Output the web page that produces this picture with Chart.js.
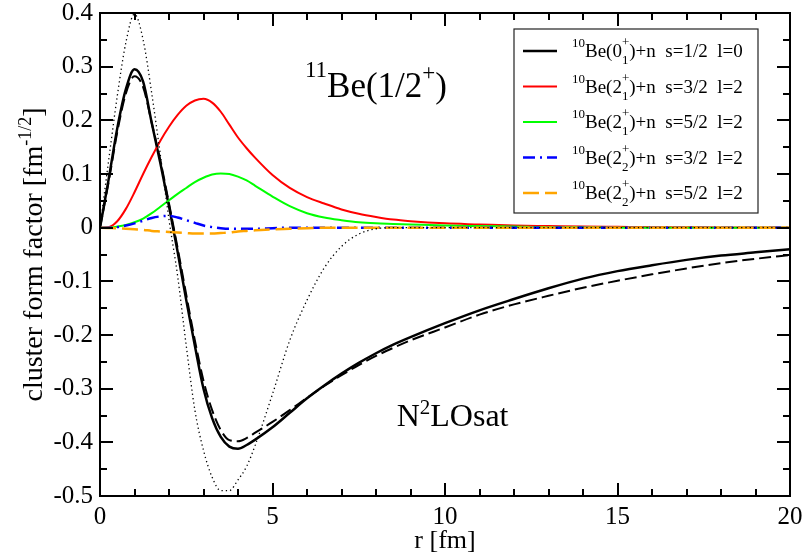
<!DOCTYPE html>
<html>
<head>
<meta charset="utf-8">
<script src="https://cdn.jsdelivr.net/npm/chart.js@4"></script>
<style>
  html, body { margin: 0; padding: 0; background: #fff; }
</style>
</head>
<body>
<canvas id="ff" width="804" height="558"></canvas>
<script>
// radial grid (fm)
const radius = [0, 0.25, 0.5, 0.75, 1, 1.25, 1.5, 1.75, 2, 2.25, 2.5, 2.75, 3, 3.25, 3.5, 3.75, 4, 4.25, 4.5,
  5, 5.5, 6, 6.5, 7, 7.5, 8, 8.5, 9, 10, 11, 12, 13, 14, 15, 16, 17, 18, 19, 20];

// 10Be(0+1)+n s=1/2 l=0
const ground = [0, 0.09, 0.185, 0.258, 0.295, 0.272, 0.195, 0.12, 0.04, -0.045, -0.135, -0.22, -0.3, -0.355, -0.39, -0.408, -0.412, -0.405, -0.395,
  -0.372, -0.345, -0.318, -0.294, -0.272, -0.252, -0.234, -0.218, -0.204, -0.178, -0.154, -0.133, -0.113, -0.095, -0.081, -0.07, -0.06, -0.052, -0.046, -0.04];
// same channel, dashed variant
const groundDashed = [0, 0.085, 0.178, 0.25, 0.282, 0.262, 0.195, 0.125, 0.045, -0.038, -0.125, -0.21, -0.285, -0.34, -0.377, -0.396, -0.398, -0.392, -0.382,
  -0.362, -0.34, -0.317, -0.295, -0.275, -0.256, -0.239, -0.224, -0.21, -0.186, -0.162, -0.143, -0.127, -0.112, -0.099, -0.087, -0.076, -0.066, -0.058, -0.051];
// same channel, dotted variant
const groundDotted = [0, 0.125, 0.245, 0.345, 0.398, 0.35, 0.25, 0.135, 0.015, -0.09, -0.22, -0.34, -0.415, -0.465, -0.49, -0.49, -0.47, -0.445, -0.405,
  -0.31, -0.21, -0.135, -0.075, -0.035, -0.012, -0.002, 0, 0, 0, 0, 0, 0, 0, 0, 0, 0, 0, 0, 0];
// 10Be(2+1)+n s=3/2 l=2
const first32 = [0, 0.001, 0.012, 0.035, 0.066, 0.1, 0.132, 0.162, 0.188, 0.21, 0.227, 0.237, 0.24, 0.233, 0.216, 0.192, 0.168, 0.148, 0.13,
  0.098, 0.074, 0.057, 0.045, 0.034, 0.026, 0.02, 0.015, 0.012, 0.008, 0.006, 0.004, 0.003, 0.002, 0.0015, 0.001, 0.001, 0.0005, 0.0005, 0];
// 10Be(2+1)+n s=5/2 l=2
const first52 = [0, 0, 0.002, 0.005, 0.01, 0.017, 0.027, 0.039, 0.051, 0.063, 0.074, 0.085, 0.093, 0.099, 0.101, 0.1, 0.095, 0.088, 0.078,
  0.058, 0.04, 0.027, 0.019, 0.014, 0.01, 0.008, 0.007, 0.006, 0.004, 0.003, 0.002, 0.001, 0.001, 0, 0, 0, 0, 0, 0];
// 10Be(2+2)+n s=3/2 l=2
const second32 = [0, 0, 0.001, 0.004, 0.008, 0.013, 0.018, 0.021, 0.022, 0.019, 0.014, 0.009, 0.004, 0.001, -0.001, -0.002, -0.002, -0.002, -0.002,
  -0.001, 0, 0, 0, 0, 0, 0, 0, 0, 0, 0, 0, 0, 0, 0, 0, 0, 0, 0, 0];
// 10Be(2+2)+n s=5/2 l=2
const second52 = [0, -0.0005, -0.001, -0.002, -0.003, -0.004, -0.006, -0.007, -0.008, -0.009, -0.01, -0.011, -0.011, -0.011, -0.01, -0.009, -0.007, -0.006, -0.005,
  -0.003, -0.002, -0.001, 0, 0, 0, 0, 0, 0, 0, 0, 0, 0, 0, 0, 0, 0, 0, 0, 0];

const SERIF = '"Liberation Serif", "Times New Roman", serif';
Chart.defaults.font.family = SERIF;
Chart.defaults.color = "#000";

const pts = (ys) => radius.map((r, i) => ({ x: r, y: ys[i] }));

// legend rows: colour, dash, width, excited state, subscript, spin, l
const legendRows = [
  { color: "#000000", dash: [], width: 2.5, state: "0", sub: "1", s: "1/2", l: "0" },
  { color: "#ff0000", dash: [], width: 2, state: "2", sub: "1", s: "3/2", l: "2" },
  { color: "#00ff00", dash: [], width: 2, state: "2", sub: "1", s: "5/2", l: "2" },
  { color: "#0000ff", dash: [12, 5, 2, 5], width: 2.5, state: "2", sub: "2", s: "3/2", l: "2" },
  { color: "#ffa500", dash: [16, 6], width: 2.5, state: "2", sub: "2", s: "5/2", l: "2" },
];

// draws runs of text with baseline shifts; a run with keep:true does not advance
function richText(ctx, x, y, runs, align) {
  let total = 0, held = 0;
  for (const r of runs) {
    ctx.font = r.size + "px " + SERIF;
    const w = ctx.measureText(r.t).width;
    if (r.keep) { held = Math.max(held, w); continue; }
    total += Math.max(held, w); held = 0;
  }
  let cx = align === "center" ? x - total / 2 : x;
  held = 0;
  ctx.textAlign = "left";
  ctx.textBaseline = "alphabetic";
  for (const r of runs) {
    ctx.font = r.size + "px " + SERIF;
    const w = ctx.measureText(r.t).width;
    ctx.fillText(r.t, cx, y + (r.dy || 0));
    if (r.keep) { held = Math.max(held, w); continue; }
    cx += Math.max(held, w); held = 0;
  }
}

const frameTicks = {
  id: "frameTicks",
  afterDatasetsDraw(chart) {
    const { ctx, chartArea: a, scales: { x, y } } = chart;
    ctx.save();
    ctx.strokeStyle = "#000";
    ctx.lineWidth = 2;
    ctx.beginPath();
    for (let r = 0; r <= 20; r++) {
      const px = Math.round(x.getPixelForValue(r));
      const len = r % 5 === 0 ? 13 : 7;
      ctx.moveTo(px, a.bottom); ctx.lineTo(px, a.bottom - len);
      ctx.moveTo(px, a.top); ctx.lineTo(px, a.top + len);
    }
    for (let k = -10; k <= 8; k++) {
      const py = Math.round(y.getPixelForValue(k * 0.05));
      const len = k % 2 === 0 ? 13 : 7;
      ctx.moveTo(a.left, py); ctx.lineTo(a.left + len, py);
      ctx.moveTo(a.right, py); ctx.lineTo(a.right - len, py);
    }
    ctx.stroke();
    ctx.strokeRect(a.left, a.top, a.right - a.left, a.bottom - a.top);
    ctx.restore();
  },
};

const labels = {
  id: "labels",
  afterDraw(chart) {
    const { ctx, chartArea: a, scales: { x, y } } = chart;
    ctx.save();
    ctx.fillStyle = "#000";

    // y axis title, rotated
    ctx.save();
    ctx.translate(42, (a.top + a.bottom) / 2);
    ctx.rotate(-Math.PI / 2);
    richText(ctx, 0, 0, [
      { t: "cluster form factor [fm", size: 28 },
      { t: "-1/2", size: 18, dy: -11 },
      { t: "]", size: 28 },
    ], "center");
    ctx.restore();

    // nucleus and interaction labels
    richText(ctx, x.getPixelForValue(5.94), y.getPixelForValue(0.243), [
      { t: "11", size: 23, dy: -20 },
      { t: "Be(1/2", size: 35 },
      { t: "+", size: 23, dy: -17 },
      { t: ")", size: 35 },
    ]);
    richText(ctx, x.getPixelForValue(8.6), y.getPixelForValue(-0.37), [
      { t: "N", size: 32 },
      { t: "2", size: 21, dy: -12 },
      { t: "LOsat", size: 32 },
    ]);

    // legend box
    const bx = a.right - 276, by = a.top + 16, bw = 244, bh = 184;
    ctx.fillStyle = "#fff";
    ctx.fillRect(bx, by, bw, bh);
    ctx.strokeStyle = "#222";
    ctx.lineWidth = 1.2;
    ctx.strokeRect(bx, by, bw, bh);
    legendRows.forEach((row, i) => {
      const ly = by + 22 + i * 35.5;
      ctx.save();
      ctx.strokeStyle = row.color;
      ctx.lineWidth = row.width;
      ctx.setLineDash(row.dash);
      ctx.beginPath();
      ctx.moveTo(bx + 9, ly);
      ctx.lineTo(bx + 43, ly);
      ctx.stroke();
      ctx.restore();
      ctx.fillStyle = "#000";
      richText(ctx, bx + 58, ly + 6, [
        { t: "10", size: 13, dy: -10 },
        { t: "Be(" + row.state, size: 19 },
        { t: "+", size: 13, dy: -11, keep: true },
        { t: row.sub, size: 13, dy: 7 },
        { t: ")+n  s=" + row.s + "  l=" + row.l, size: 19 },
      ]);
    });
    ctx.restore();
  },
};

const line = (data, color, width, dash, order) => ({
  data: pts(data),
  borderColor: color,
  borderWidth: width,
  borderDash: dash,
  pointRadius: 0,
  fill: false,
  cubicInterpolationMode: "monotone",
  order: order,
});

new Chart(document.getElementById("ff"), {
  type: "line",
  data: {
    datasets: [
      line(ground, "#000000", 2.5, [], 6),
      line(first32, "#ff0000", 2, [], 5),
      line(first52, "#00ff00", 2, [], 4),
      line(second32, "#0000ff", 2.5, [12, 5, 2, 5], 3),
      line(second52, "#ffa500", 2.5, [16, 6], 2),
      line(groundDashed, "#000000", 2, [12, 5], 1),
      line(groundDotted, "#000000", 1.3, [1.3, 3], 0),
    ],
  },
  options: {
    responsive: false,
    animation: false,
    layout: { padding: { top: 13, right: 14, left: 0, bottom: 0 } },
    plugins: { legend: { display: false }, tooltip: { enabled: false } },
    scales: {
      x: {
        type: "linear",
        min: 0,
        max: 20,
        grid: { display: false },
        border: { display: false },
        ticks: { stepSize: 5, color: "#000", font: { family: SERIF, size: 25 }, padding: -2, maxRotation: 0 },
        title: { display: true, text: "r [fm]", color: "#000", font: { family: SERIF, size: 26 }, padding: { top: 0, bottom: 1 } },
        afterFit: (s) => { s.height = 62; s.paddingLeft = 0; s.paddingRight = 0; },
      },
      y: {
        type: "linear",
        min: -0.5,
        max: 0.4,
        grid: { display: false },
        border: { display: false },
        ticks: {
          stepSize: 0.1,
          color: "#000",
          font: { family: SERIF, size: 25 },
          padding: -1,
          callback: (v) => { const r = Math.round(v * 10) / 10; return r === 0 ? "0" : String(r); },
        },
        afterFit: (s) => { s.width = 100; s.paddingTop = 0; s.paddingBottom = 0; },
      },
    },
  },
  plugins: [frameTicks, labels],
});
</script>
</body>
</html>
